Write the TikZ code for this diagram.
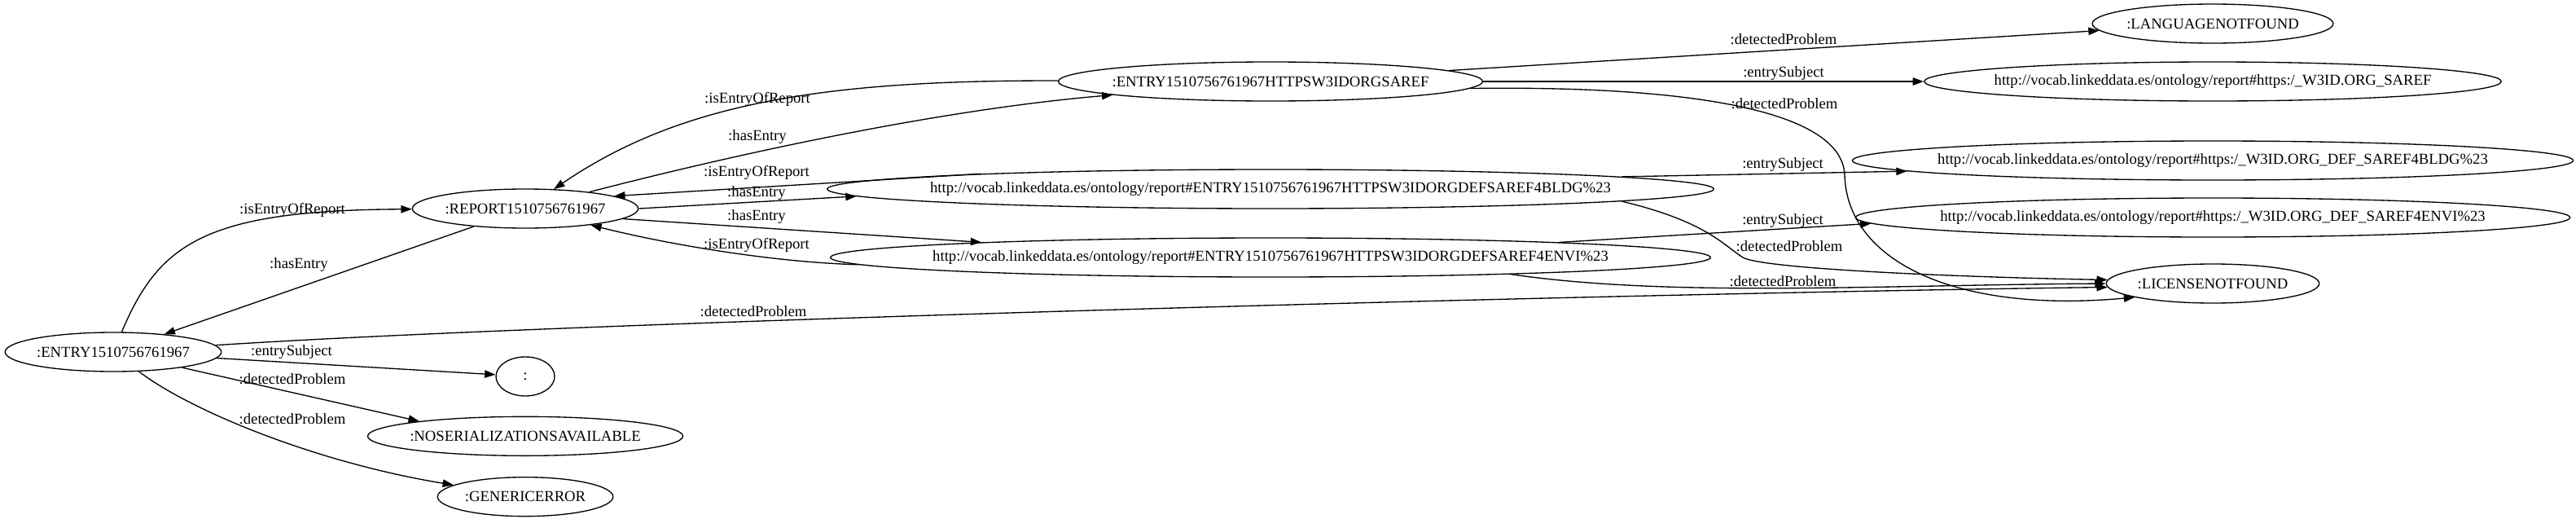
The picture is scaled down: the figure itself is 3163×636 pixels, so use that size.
\documentclass[tikz,border=0pt]{standalone}
\usepackage{fontspec}
\setmainfont{Liberation Serif}
\usetikzlibrary{arrows.meta,positioning,shapes.geometric}
\newcommand\gvfont{\fontsize{14pt}{16pt}\selectfont}
% ellipse a bit tighter than sqrt(2) round the label, as dot does
\newcommand\gvlabel[1]{\makebox[\dimexpr 0.898\width+14.4pt\relax]{#1}}
\tikzset{
  gvnode/.style={draw, ellipse, line width=1pt, inner sep=0pt,
    minimum height=36pt, minimum width=54pt, font=\gvfont},
  gvedge/.style={draw, line width=1pt, -{Triangle[length=10pt,width=7pt]}},
  gvlab/.style={font=\gvfont, inner sep=0pt},
}
\begin{document}
\begin{tikzpicture}[x=0.75pt,y=-0.75pt]
  \useasboundingbox (0,0) rectangle (3163,636);
  % rank 0 and 1
  \node[gvnode] (entry) at (139,432) {\gvlabel{:ENTRY1510756761967}};
  \node[gvnode] (report) at (645,256) {\gvlabel{:REPORT1510756761967}};
  \node[gvnode] (colon) at (645,462) {:};
  \node[gvnode, below=18pt of colon] (noser) {\gvlabel{:NOSERIALIZATIONSAVAILABLE}};
  \node[gvnode, below=18.75pt of noser] (generic) {\gvlabel{:GENERICERROR}};
  % rank 2
  \node[gvnode] (saref) at (1560,100) {\gvlabel{:ENTRY1510756761967HTTPSW3IDORGSAREF}};
  \node[gvnode] (bldg) at (1560,232) {\gvlabel{http://vocab.linkeddata.es/ontology/report\#ENTRY1510756761967HTTPSW3IDORGDEFSAREF4BLDG\%23}};
  \node[gvnode] (envi) at (1560,316) {\gvlabel{http://vocab.linkeddata.es/ontology/report\#ENTRY1510756761967HTTPSW3IDORGDEFSAREF4ENVI\%23}};
  % rank 3
  \node[gvnode] (langnf) at (2717,29) {\gvlabel{:LANGUAGENOTFOUND}};
  \node[gvnode] (sarefuri) at (2717,100) {\gvlabel{http://vocab.linkeddata.es/ontology/report\#https:/\_W3ID.ORG\_SAREF}};
  \node[gvnode] (bldguri) at (2717,197) {\gvlabel{http://vocab.linkeddata.es/ontology/report\#https:/\_W3ID.ORG\_DEF\_SAREF4BLDG\%23}};
  \node[gvnode] (enviuri) at (2717,267) {\gvlabel{http://vocab.linkeddata.es/ontology/report\#https:/\_W3ID.ORG\_DEF\_SAREF4ENVI\%23}};
  \node[gvnode] (licnf) at (2717,348) {\gvlabel{:LICENSENOTFOUND}};

  \draw[gvedge] (entry) .. controls (195,300) and (250,258) .. (report);
  \draw[gvedge] (report) -- (entry);
  \draw[gvedge] (entry) .. controls (700,395) and (2000,360) .. (licnf.182);
  \draw[gvedge] (entry) -- (colon);
  \draw[gvedge] (entry) -- (noser.172);
  \draw[gvedge] (entry) .. controls (235,505) and (390,568) .. (generic);
  \draw[gvedge] (report) .. controls (900,190) and (1150,135) .. (saref);
  \draw[gvedge] (saref) .. controls (1000,98) and (830,130) .. (report);
  \draw[gvedge] (bldg.177.8) -- (report.8);
  \draw[gvedge] (report.east) -- (bldg.181.3);
  \draw[gvedge] (report.354) -- (envi.177.3);
  \draw[gvedge] (envi.181.4) .. controls (950,322) and (820,300) .. (report);
  \draw[gvedge] (saref) -- (langnf);
  \draw[gvedge] (saref) -- (sarefuri);
  \draw[gvedge] (saref.358) .. controls (2050,105) and (2262,130) .. (2265,215)
    .. controls (2268,320) and (2400,385) .. (licnf.190);
  \draw[gvedge] (bldg.2.1) -- (bldguri.182);
  \draw[gvedge] (bldg.358.4) .. controls (2095,272) and (2115,300) .. (2140,316)
    .. controls (2165,330) and (2400,340) .. (licnf.178);
  \draw[gvedge] (envi.3.2) -- (enviuri.181.7);
  \draw[gvedge] (envi.356) .. controls (2050,365) and (2300,350) .. (licnf.west);

  % edge labels
  \node[gvlab] (l-ier1) at (359,258) {:isEntryOfReport};
  \node[gvlab] (l-he1) at (367,325) {:hasEntry};
  \node[gvlab] (l-es1) at (358,432) {:entrySubject};
  \node[gvlab] (l-dp1) at (359,465) {:detectedProblem};
  \node[gvlab] (l-dp2) at (359,514) {:detectedProblem};
  \node[gvlab] (l-dp3) at (925,382) {:detectedProblem};
  \node[gvlab] (l-ier2) at (930,122) {:isEntryOfReport};
  \node[gvlab] (l-he2) at (930,168) {:hasEntry};
  \node[gvlab] (l-ier3) at (929,212) {:isEntryOfReport};
  \node[gvlab] (l-he3) at (929,237) {:hasEntry};
  \node[gvlab] (l-he4) at (929,266) {:hasEntry};
  \node[gvlab] (l-ier4) at (929,301) {:isEntryOfReport};
  \node[gvlab] (l-dp4) at (2190,48) {:detectedProblem};
  \node[gvlab] (l-es2) at (2190,90) {:entrySubject};
  \node[gvlab] (l-dp5) at (2191,127) {:detectedProblem};
  \node[gvlab] (l-es3) at (2189,202) {:entrySubject};
  \node[gvlab] (l-dp6) at (2197,302) {:detectedProblem};
  \node[gvlab] (l-es4) at (2189,271) {:entrySubject};
  \node[gvlab] (l-dp7) at (2189,345) {:detectedProblem};
\end{tikzpicture}
\end{document}
